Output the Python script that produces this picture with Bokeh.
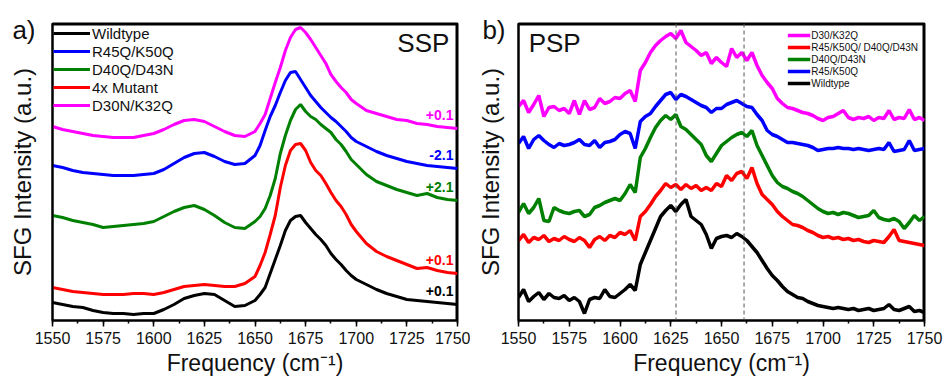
from bokeh.plotting import figure
from bokeh.layouts import row
from bokeh.models import (Range1d, SingleIntervalTicker, FixedTicker, Legend,
                          LegendItem, Label, Span)
from bokeh.embed import file_html
from bokeh.resources import INLINE
from bokeh.core.properties import value

FONT = "Liberation Sans"

# ---------------- data: SSP panel ----------------
ssp_freq = [1550, 1555, 1560, 1565, 1570, 1575, 1580, 1585, 1590, 1595, 1600,
            1605, 1610, 1615, 1620, 1625, 1630, 1635, 1640, 1645, 1650,
            1652.5, 1655, 1657.5, 1660, 1662.5, 1665, 1667.5, 1670, 1672.5, 1675,
            1677.5, 1680, 1682.5, 1685, 1687.5, 1690, 1692.5, 1695, 1697.5, 1700,
            1705, 1710, 1715, 1720, 1725, 1730, 1735, 1740, 1745, 1750]

ssp_wildtype = [18, 16, 14, 13, 10, 8, 7, 7, 6, 7, 7, 11, 16, 22, 25, 27, 26, 20, 14, 15, 20,
                26, 33, 47, 61, 75, 90, 100, 104, 105, 98, 92, 86, 81, 75, 67, 61, 56, 50, 45, 41,
                36, 31, 27, 24, 21, 20, 19, 18, 17, 16]
ssp_r45q_k50q = [155, 153, 150, 148, 147, 146, 145, 145, 145, 146, 147, 151, 157, 163, 167, 168, 164, 159, 156, 157, 165,
                 175, 190, 204, 215, 228, 240, 248, 249, 241, 233, 225, 219, 213, 208, 203, 199, 194, 189, 183, 179,
                 174, 169, 165, 162, 159, 157, 155, 154, 153, 152]
ssp_d40q_d43n = [105, 103, 100, 98, 96, 93, 94, 95, 96, 97, 99, 104, 109, 113, 115, 111, 105, 98, 93, 92, 99,
                 104, 112, 125, 142, 167, 185, 200, 211, 216, 209, 204, 201, 196, 192, 188, 181, 176, 169, 161, 156,
                 146, 139, 135, 131, 128, 125, 127, 123, 121, 120]
ssp_4x_mutant = [33, 31, 29, 28, 27, 26, 26, 26, 27, 27, 26, 28, 31, 34, 35, 36, 35, 34, 34, 37, 44,
                 55, 68, 86, 105, 133, 155, 170, 176, 177, 170, 158, 150, 145, 137, 128, 120, 114, 106, 96, 89,
                 77, 69, 64, 60, 56, 52, 53, 50, 48, 47]
ssp_d30n_k32q = [194, 191, 189, 187, 185, 184, 183, 183, 183, 185, 187, 191, 196, 200, 201, 199, 194, 189, 185, 184, 189,
                 197, 206, 222, 238, 253, 270, 283, 291, 293, 288, 281, 273, 265, 257, 246, 239, 233, 228, 221, 217,
                 210, 207, 204, 201, 200, 197, 196, 194, 193, 192]

ssp_names = ["Wildtype", "R45Q/K50Q", "D40Q/D43N", "4x Mutant", "D30N/K32Q"]
ssp_offsets = ["+0.1", "-2.1", "+2.1", "+0.1", "+0.1"]

# ---------------- data: PSP panel ----------------
psp_freq = [1550, 1552.5, 1555, 1557.5, 1560, 1562.5, 1565, 1567.5, 1570, 1572.5,
            1575, 1577.5, 1580, 1582.5, 1585, 1587.5, 1590, 1592.5, 1595, 1597.5,
            1600, 1602.5, 1605, 1607.5, 1610, 1612.5, 1615, 1617.5, 1620, 1622.5,
            1625, 1627.5, 1630, 1632.5, 1635, 1637.5, 1640, 1642.5, 1645, 1647.5,
            1650, 1652.5, 1655, 1657.5, 1660, 1662.5, 1665, 1667.5, 1670, 1672.5,
            1675, 1677.5, 1680, 1682.5, 1685, 1687.5, 1690, 1692.5, 1695, 1697.5,
            1700, 1702.5, 1705, 1707.5, 1710, 1712.5, 1715, 1717.5, 1720, 1722.5,
            1725, 1727.5, 1730, 1732.5, 1735, 1737.5, 1740, 1742.5, 1745, 1747.5,
            1750]

psp_wildtype = [23, 31, 19, 24, 28, 21, 27, 23, 22, 25,
                20, 23, 19, 7, 21, 23, 22, 31, 24, 23,
                27, 31, 36, 30, 56, 68, 80, 92, 104, 110,
                115, 109, 116, 121, 104, 100, 96, 86, 72, 82,
                84, 85, 83, 87, 84, 80, 74, 68, 60, 52,
                45, 40, 34, 29, 26, 23, 22, 19, 17, 15,
                14, 13, 12, 13, 12, 11, 12, 10, 11, 12,
                10, 11, 12, 16, 11, 10, 12, 14, 9, 10,
                8]
psp_r45_k50q = [177, 184, 172, 181, 185, 180, 176, 173, 177, 175,
                176, 178, 181, 176, 175, 180, 173, 178, 179, 181,
                186, 189, 187, 172, 199, 204, 207, 214, 220, 226,
                228, 221, 226, 224, 221, 218, 215, 213, 208, 212,
                212, 216, 218, 220, 217, 214, 213, 206, 200, 190,
                186, 184, 181, 178, 178, 177, 176, 175, 173, 170,
                171, 172, 172, 173, 172, 172, 171, 172, 171, 170,
                171, 172, 171, 178, 169, 170, 171, 180, 170, 171,
                172]
psp_d40q_d43n = [108, 117, 107, 113, 122, 100, 99, 113, 110, 108,
                 107, 109, 110, 104, 106, 113, 115, 118, 120, 122,
                 120, 127, 136, 128, 163, 172, 183, 193, 200, 205,
                 201, 206, 194, 191, 186, 181, 176, 165, 159, 167,
                 175, 179, 183, 186, 188, 184, 190, 175, 165, 155,
                 145, 138, 134, 132, 129, 127, 124, 120, 116, 112,
                 109, 107, 108, 106, 108, 107, 105, 103, 104, 105,
                 110, 103, 101, 100, 102, 99, 92, 98, 105, 100,
                 104]
psp_quad = [80, 86, 78, 83, 81, 85, 79, 82, 80, 84,
            81, 79, 83, 80, 73, 81, 84, 80, 85, 83,
            88, 86, 90, 80, 104, 109, 116, 124, 130, 137,
            133, 136, 131, 136, 132, 135, 130, 133, 130, 137,
            134, 145, 140, 147, 149, 142, 153, 137, 126, 121,
            116, 109, 104, 100, 96, 95, 93, 90, 88, 85,
            83, 84, 82, 83, 81, 82, 80, 81, 79, 78,
            80, 79, 78, 84, 91, 80, 79, 78, 77, 76,
            75]
psp_d30_k32q = [214, 220, 208, 216, 225, 204, 213, 214, 210, 212,
                207, 220, 206, 220, 211, 213, 222, 217, 219, 223,
                222, 227, 230, 219, 250, 258, 268, 275, 280, 284,
                287, 282, 290, 278, 274, 270, 265, 268, 257, 263,
                258, 254, 272, 263, 268, 260, 268, 255, 245, 238,
                232, 222, 217, 213, 212, 210, 208, 207, 205, 202,
                200, 203, 204, 207, 210, 203, 201, 203, 202, 204,
                200, 203, 202, 210, 201, 203, 202, 211, 201, 203,
                200]

psp_names = ["D30/K32Q", "R45/K50Q/ D40Q/D43N", "D40Q/D43N", "R45/K50Q", "Wildtype"]
psp_marker_freqs = [1627.6, 1661.1]

BLACK, BLUE, GREEN, RED, MAGENTA = "#000000", "#0000ff", "#008000", "#ff0000", "#ff00ff"
TEXT = "#111111"


def make_fig(width, border_left, border_right, panel_tag, tag_standoff, ylabel_standoff):
    xr = Range1d(1550, 1750)
    yr = Range1d(0, 297)
    p = figure(width=width, height=379, output_backend="svg", toolbar_location=None,
               x_range=xr, y_range=yr,
               min_border_left=border_left, min_border_right=border_right,
               min_border_top=23, min_border_bottom=59)
    p.grid.visible = False
    p.background_fill_color = "white"
    p.border_fill_color = "white"
    p.outline_line_color = "black"
    p.outline_line_width = 2
    p.outline_line_alpha = 1

    xa = p.xaxis[0]
    xa.ticker = SingleIntervalTicker(interval=25, num_minor_ticks=2)
    xa.axis_line_width = 2
    xa.axis_line_color = "black"
    xa.major_tick_in = 0
    xa.major_tick_out = 6
    xa.minor_tick_in = 0
    xa.minor_tick_out = 3
    xa.major_tick_line_width = 1.5
    xa.minor_tick_line_width = 1.5
    xa.major_tick_line_color = "black"
    xa.minor_tick_line_color = "black"
    xa.major_label_text_font = FONT
    xa.major_label_text_font_size = "16px"
    xa.major_label_text_color = TEXT
    xa.major_label_standoff = 5
    xa.axis_label = "Frequency (cm\u207b\u00b9)"
    xa.axis_label_text_font = FONT
    xa.axis_label_text_font_size = "23px"
    xa.axis_label_text_font_style = "normal"
    xa.axis_label_text_color = TEXT
    xa.axis_label_standoff = 3

    # left axis: no numeric ticks; its single tick label carries the panel tag
    ya = p.yaxis[0]
    ya.ticker = FixedTicker(ticks=[291])
    ya.major_label_overrides = {291: panel_tag}
    ya.axis_line_width = 2
    ya.axis_line_color = "black"
    ya.major_tick_out = 0
    ya.major_tick_in = 0
    ya.minor_tick_out = 0
    ya.minor_tick_in = 0
    ya.major_tick_line_alpha = 0
    ya.major_label_standoff = tag_standoff
    ya.major_label_text_font = FONT
    ya.major_label_text_font_size = "26px"
    ya.major_label_text_color = TEXT
    ya.axis_label = "SFG Intensity (a.u.)"
    ya.axis_label_text_font = FONT
    ya.axis_label_text_font_size = "24px"
    ya.axis_label_text_font_style = "normal"
    ya.axis_label_text_color = TEXT
    ya.axis_label_standoff = ylabel_standoff

    # closed box: top and right edges of the frame (half of each line is clipped)
    p.line([xr.start, xr.end], [yr.end, yr.end], line_color="black", line_width=4)
    p.line([xr.end, xr.end], [yr.start, yr.end], line_color="black", line_width=4)
    return p


# ---------------- SSP panel ----------------
p1 = make_fig(470, 52, 13, "a)", 17, -27)
ssp_series = [ssp_wildtype, ssp_r45q_k50q, ssp_d40q_d43n, ssp_4x_mutant, ssp_d30n_k32q]
ssp_colors = [BLACK, BLUE, GREEN, RED, MAGENTA]
ssp_items = []
for name, ys, col in zip(ssp_names, ssp_series, ssp_colors):
    r = p1.line(ssp_freq, ys, line_color=col, line_width=3)
    ssp_items.append(LegendItem(label=name, renderers=[r]))

leg1 = Legend(items=ssp_items, location="top_left", margin=0, padding=1, spacing=0,
              label_height=18, glyph_height=18, glyph_width=37, label_standoff=2,
              label_text_font=FONT, label_text_font_size="15px", label_text_color=TEXT,
              background_fill_alpha=0, border_line_alpha=0)
p1.add_layout(leg1)

p1.text(x=[ssp_freq[-1] - 2] * len(ssp_series), y=[s[-1] + 14 for s in ssp_series],
        text=ssp_offsets, text_color=ssp_colors, text_align="right", text_baseline="middle",
        text_font=value(FONT), text_font_size="14px", text_font_style="bold")

p1.add_layout(Label(x=1746, y=293, text="SSP", text_font=FONT, text_font_size="26px",
                    text_align="right", text_baseline="top", text_color=TEXT))

# ---------------- PSP panel ----------------
p2 = make_fig(473, 48, 19, "b)", 13, -25)
for f in psp_marker_freqs:
    p2.add_layout(Span(location=f, dimension="height", line_color="#555555",
                       line_width=1, line_dash="4 3"))

psp_series = [psp_d30_k32q, psp_quad, psp_d40q_d43n, psp_r45_k50q, psp_wildtype]
psp_colors = [MAGENTA, RED, GREEN, BLUE, BLACK]
psp_items = []
for name, ys, col in zip(psp_names, psp_series, psp_colors):
    r = p2.line(psp_freq, ys, line_color=col, line_width=3.5)
    psp_items.append(LegendItem(label=name, renderers=[r]))

leg2 = Legend(items=psp_items, location="top_right", margin=4, padding=2, spacing=0,
              label_height=12, glyph_height=12, glyph_width=23, label_standoff=1,
              label_text_font=FONT, label_text_font_size="10px", label_text_color=TEXT,
              background_fill_alpha=0, border_line_alpha=0)
p2.add_layout(leg2)

p2.add_layout(Label(x=1555, y=293, text="PSP", text_font=FONT, text_font_size="26px",
                    text_align="left", text_baseline="top", text_color=TEXT))

layout = row(p1, p2)
open("out.html", "w").write(file_html(layout, INLINE))
